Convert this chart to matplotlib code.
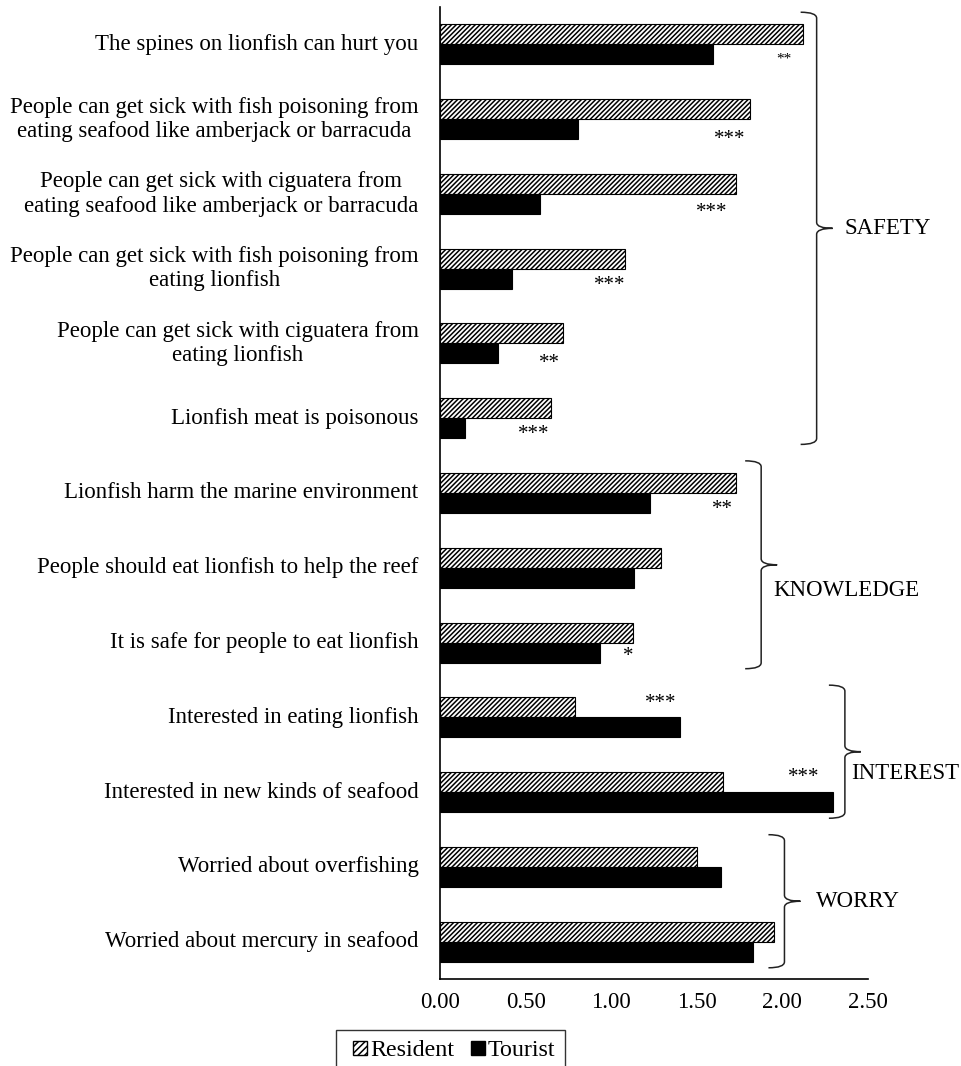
import matplotlib
matplotlib.use("Agg")
import matplotlib.pyplot as plt
from matplotlib.legend_handler import HandlerPatch
from matplotlib.patches import Patch, PathPatch, Rectangle
from matplotlib.path import Path
from matplotlib.transforms import IdentityTransform

# ---------------------------------------------------------------------------
# Data
# ---------------------------------------------------------------------------
statements = [
    "The spines on lionfish can hurt you",
    "People can get sick with fish poisoning from\neating seafood like amberjack or barracuda",
    "People can get sick with ciguatera from\neating seafood like amberjack or barracuda",
    "People can get sick with fish poisoning from\neating lionfish",
    "People can get sick with ciguatera from\neating lionfish",
    "Lionfish meat is poisonous",
    "Lionfish harm the marine environment",
    "People should eat lionfish to help the reef",
    "It is safe for people to eat lionfish",
    "Interested in eating lionfish",
    "Interested in new kinds of seafood",
    "Worried about overfishing",
    "Worried about mercury in seafood",
]
resident = [2.12, 1.81, 1.73, 1.08, 0.72, 0.65, 1.73, 1.29, 1.13, 0.79, 1.655, 1.50, 1.95]
tourist = [1.595, 0.805, 0.585, 0.42, 0.34, 0.145, 1.225, 1.135, 0.935, 1.40, 2.295, 1.64, 1.83]

# significance marks: (row, text, x position, row offset)
sig_rows = [0, 1, 2, 3, 4, 5, 6, 8, 9, 10]
sig_text = ["**", "***", "***", "***", "**", "***", "**", "*", "***", "***"]
sig_x = [2.01, 1.69, 1.59, 0.99, 0.64, 0.545, 1.65, 1.10, 1.29, 2.125]
sig_dy = [0.19, 0.27, 0.25, 0.22, 0.27, 0.22, 0.22, 0.19, -0.18, -0.20]
sig_size = [11, 15, 15, 15, 15, 15, 15, 15, 15, 15]

# category braces on the right
group_names = ["SAFETY", "KNOWLEDGE", "INTEREST", "WORRY"]
group_first = [0, 6, 9, 11]
group_last = [5, 8, 10, 12]
group_brace_x = [2.20, 1.876, 2.365, 2.012]
group_label_x = [2.362, 1.946, 2.403, 2.198]
group_label_dy = [0.0, 0.34, 0.29, 0.0]

xticks = [0.0, 0.5, 1.0, 1.5, 2.0, 2.5]

# ---------------------------------------------------------------------------
# Plot
# ---------------------------------------------------------------------------
plt.rcParams["font.family"] = ["Liberation Serif", "DejaVu Serif"]
plt.rcParams["hatch.linewidth"] = 1.1

W, H = 961, 1066
fig = plt.figure(figsize=(W / 100, H / 100), dpi=100)
ax = fig.add_axes([440 / W, 1 - 979 / H, 428 / W, 972 / H])

bar_h = 0.267
ypos = list(range(len(statements)))
ax.barh([y - bar_h / 2 for y in ypos], resident, height=bar_h, color="white",
        edgecolor="black", hatch="///////", linewidth=0.8, label="Resident")
ax.barh([y + bar_h / 2 for y in ypos], tourist, height=bar_h, color="black",
        edgecolor="black", linewidth=0.8, label="Tourist")

ax.set_xlim(0, 2.5)
ax.set_ylim(len(statements) - 0.5, -0.5)
ax.set_xticks(xticks)
ax.set_xticklabels([f"{v:.2f}" for v in xticks], fontsize=16.5)
ax.set_yticks([])
ax.tick_params(axis="x", length=0, pad=9)
for side in ("top", "right"):
    ax.spines[side].set_visible(False)
for side in ("left", "bottom"):
    ax.spines[side].set_linewidth(1.2)

for y, lab in zip(ypos, statements):
    ax.text(-0.125, y, lab, ha="right", va="center", multialignment="center",
            fontsize=16.5, linespacing=1.2)

for r, t, x, dy, fs in zip(sig_rows, sig_text, sig_x, sig_dy, sig_size):
    ax.text(x, r + dy, t, ha="center", va="center", fontsize=fs)

# braces
fig.canvas.draw()
hook_w, hook_r = 16, 6
for name, first, last, bx, lx, ldy in zip(group_names, group_first, group_last,
                                          group_brace_x, group_label_x, group_label_dy):
    top = first - 0.43
    bot = last + 0.35
    mid = (top + bot) / 2
    X, Yt = ax.transData.transform((bx, top))
    _, Yb = ax.transData.transform((bx, bot))
    _, Ym = ax.transData.transform((bx, mid))
    verts = [
        (X - hook_w, Yt), (X, Yt), (X, Yt - hook_r),
        (X, Ym + hook_r),
        (X, Ym), (X + hook_w, Ym),
        (X, Ym), (X, Ym - hook_r),
        (X, Yb + hook_r),
        (X, Yb), (X - hook_w, Yb),
    ]
    codes = [Path.MOVETO, Path.CURVE3, Path.CURVE3, Path.LINETO,
             Path.CURVE3, Path.CURVE3, Path.CURVE3, Path.CURVE3,
             Path.LINETO, Path.CURVE3, Path.CURVE3]
    fig.add_artist(PathPatch(Path(verts, codes), facecolor="none", edgecolor="#222222",
                             linewidth=1.1, transform=IdentityTransform()))
    ax.text(lx, mid + ldy, name, ha="left", va="center", fontsize=16.5, clip_on=False)


def square_handle(legend, orig_handle, xdescent, ydescent, width, height, fontsize):
    # small square pushed to the right end of the handle box
    s = height
    return Rectangle((-xdescent + width - s, -ydescent), s, s)


handles = [Patch(facecolor="white", edgecolor="black", hatch="/////", label="Resident"),
           Patch(facecolor="black", edgecolor="black", label="Tourist")]
hmap = {h: HandlerPatch(patch_func=square_handle) for h in handles}
leg = fig.legend(handles=handles, handler_map=hmap, loc="upper left",
                 bbox_to_anchor=(336 / W, 1 - 1030 / H),
                 ncol=2, fontsize=17.3, frameon=True, fancybox=False, borderaxespad=0,
                 handlelength=0.88, handleheight=0.52, handletextpad=0.12,
                 columnspacing=0.4, borderpad=0.42)
leg.get_frame().set_edgecolor("black")
leg.get_frame().set_linewidth(1.0)

fig.savefig("out.png", dpi=100)
